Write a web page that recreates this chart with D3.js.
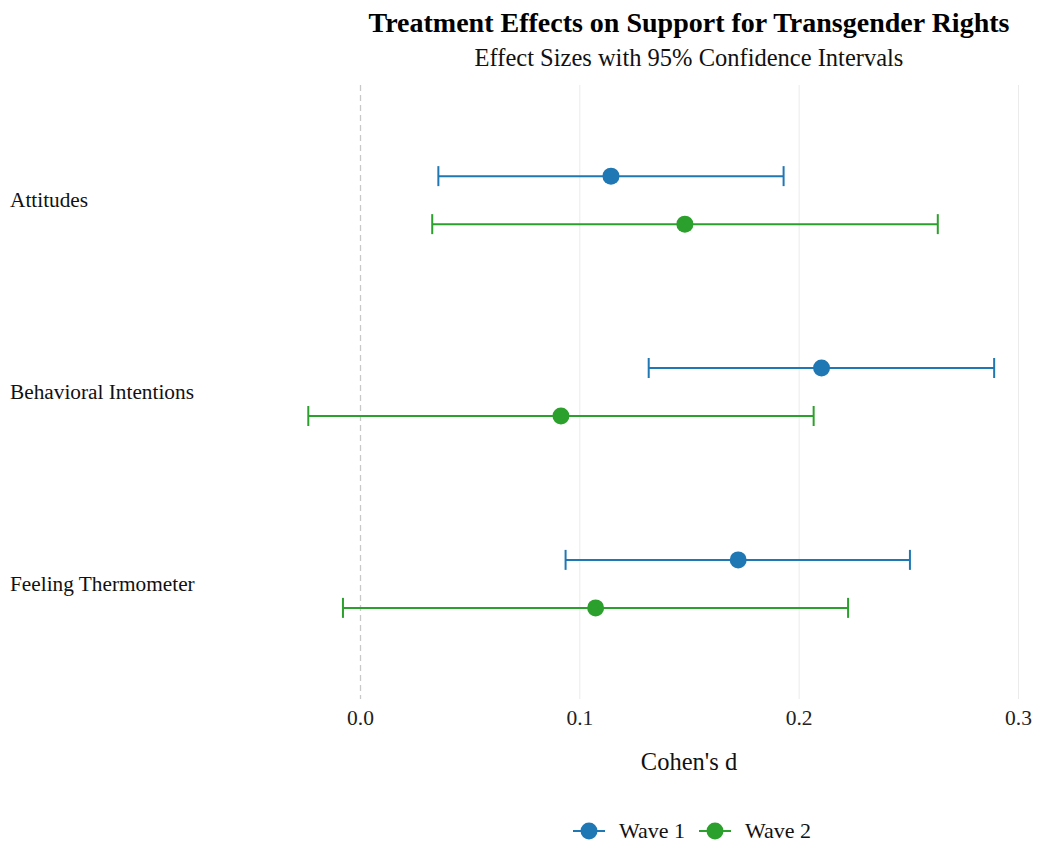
<!DOCTYPE html>
<html>
<head>
<meta charset="utf-8">
<script src="https://cdn.jsdelivr.net/npm/d3@7"></script>
<style>
  body { margin: 0; background: #fff; }
  svg { display: block; font-family: "Liberation Serif", "Times New Roman", serif; }
</style>
</head>
<body>
<svg id="chart" width="1037" height="846"></svg>
<script>
const outcomes = ["Attitudes", "Behavioral Intentions", "Feeling Thermometer"];
const waves = ["Wave 1", "Wave 2"];
const waveColors = ["#1f77b4", "#2ca02c"];
const wave1Est = [0.1142, 0.2102, 0.1722];
const wave1Lo  = [0.0355, 0.1314, 0.0935];
const wave1Hi  = [0.1929, 0.2889, 0.2505];
const wave2Est = [0.1479, 0.0914, 0.1072];
const wave2Lo  = [0.0327, -0.0238, -0.0080];
const wave2Hi  = [0.2632, 0.2066, 0.2223];
const xTicks = [0.0, 0.1, 0.2, 0.3];

const svg = d3.select("#chart");
const x = d3.scaleLinear().domain([0, 0.3]).range([360.5, 1018.5]);
const y = d3.scaleLinear().domain([-0.6, 2.6]).range([85, 699]);
const offset = 24;

// Grid lines
svg.append("g").selectAll("line").data(xTicks.filter(d => d !== 0)).join("line")
  .attr("x1", d => x(d)).attr("x2", d => x(d))
  .attr("y1", y(-0.6)).attr("y2", y(2.6))
  .attr("stroke", "#ebebeb").attr("stroke-width", 1);

// Zero reference line
svg.append("line")
  .attr("x1", x(0)).attr("x2", x(0))
  .attr("y1", y(-0.6)).attr("y2", y(2.6))
  .attr("stroke", "#c8c8c8").attr("stroke-width", 1.3)
  .attr("stroke-dasharray", "6,4");

// X tick labels
svg.append("g").selectAll("text").data(xTicks).join("text")
  .attr("x", d => x(d)).attr("y", 725)
  .attr("text-anchor", "middle").attr("font-size", 21.5).attr("fill", "#222")
  .text(d => d3.format(".1f")(d));

// Y category labels
svg.append("g").selectAll("text").data(outcomes).join("text")
  .attr("x", 10).attr("y", (d, i) => y(i) + 7)
  .attr("font-size", 21.3).attr("fill", "#111")
  .text(d => d);

const series = [
  { name: waves[0], color: waveColors[0], est: wave1Est, lo: wave1Lo, hi: wave1Hi, dy: -offset },
  { name: waves[1], color: waveColors[1], est: wave2Est, lo: wave2Lo, hi: wave2Hi, dy: offset }
];

series.forEach(s => {
  const g = svg.append("g");
  const rows = outcomes.map((o, i) => ({ i, est: s.est[i], lo: s.lo[i], hi: s.hi[i] }));
  g.selectAll(".ci").data(rows).join("line")
    .attr("x1", d => x(d.lo)).attr("x2", d => x(d.hi))
    .attr("y1", d => y(d.i) + s.dy).attr("y2", d => y(d.i) + s.dy)
    .attr("stroke", s.color).attr("stroke-width", 2);
  ["lo", "hi"].forEach(k => {
    g.selectAll(".cap" + k).data(rows).join("line")
      .attr("x1", d => x(d[k])).attr("x2", d => x(d[k]))
      .attr("y1", d => y(d.i) + s.dy - 10).attr("y2", d => y(d.i) + s.dy + 10)
      .attr("stroke", s.color).attr("stroke-width", 2);
  });
  g.selectAll("circle").data(rows).join("circle")
    .attr("cx", d => x(d.est)).attr("cy", d => y(d.i) + s.dy)
    .attr("r", 8.5).attr("fill", s.color);
});

// Titles
svg.append("text").attr("x", 689).attr("y", 32).attr("text-anchor", "middle")
  .attr("font-size", 28).attr("font-weight", "bold").attr("fill", "#000")
  .text("Treatment Effects on Support for Transgender Rights");
svg.append("text").attr("x", 689).attr("y", 66).attr("text-anchor", "middle")
  .attr("font-size", 24.5).attr("fill", "#111")
  .text("Effect Sizes with 95% Confidence Intervals");
svg.append("text").attr("x", 689).attr("y", 770).attr("text-anchor", "middle")
  .attr("font-size", 24.5).attr("fill", "#111")
  .text("Cohen's d");

// Legend
const legendX = [573, 699];
const leg = svg.append("g");
series.forEach((s, i) => {
  const lx = legendX[i];
  leg.append("line").attr("x1", lx).attr("x2", lx + 32).attr("y1", 831).attr("y2", 831)
    .attr("stroke", s.color).attr("stroke-width", 2);
  leg.append("circle").attr("cx", lx + 16).attr("cy", 831).attr("r", 8.5).attr("fill", s.color);
  leg.append("text").attr("x", lx + 46).attr("y", 838).attr("font-size", 22).attr("fill", "#111")
    .text(s.name);
});
</script>
</body>
</html>
